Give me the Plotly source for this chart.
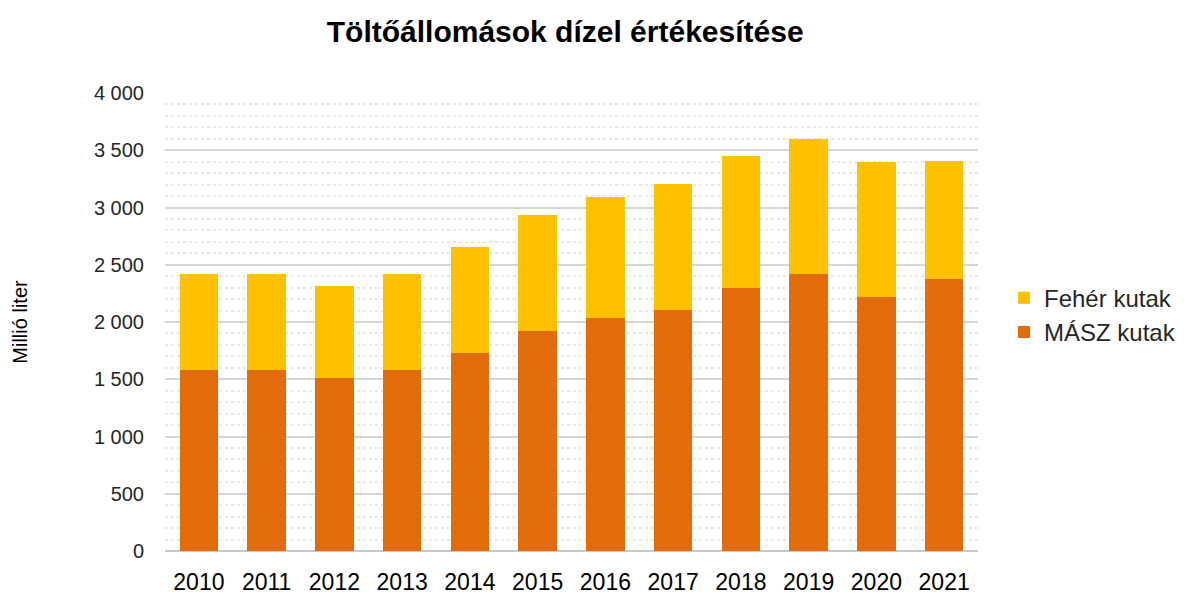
import plotly.graph_objects as go

years = ["2010", "2011", "2012", "2013", "2014", "2015", "2016", "2017", "2018", "2019", "2020", "2021"]
masz = [1580, 1580, 1515, 1580, 1728, 1918, 2037, 2105, 2297, 2419, 2221, 2376]
feher = [838, 838, 803, 838, 925, 1016, 1053, 1099, 1153, 1177, 1174, 1030]

FONT = "Liberation Sans, Arial, sans-serif"

fig = go.Figure()
fig.add_trace(go.Bar(x=years, y=masz, name="MÁSZ kutak",
                     marker=dict(color="#E36C0A", line=dict(width=0))))
fig.add_trace(go.Bar(x=years, y=feher, name="Fehér kutak",
                     marker=dict(color="#FFC000", line=dict(width=0))))

fig.update_layout(
    width=1188, height=599,
    barmode="stack", bargap=0.43,
    plot_bgcolor="white", paper_bgcolor="white",
    margin=dict(l=151, r=218, t=85, b=56),
    separators=", ",
    title=dict(text="<b>Töltőállomások dízel értékesítése</b>", x=0.469, xanchor="center",
               y=0.96, yanchor="middle",
               font=dict(family=FONT, size=30, color="#000000")),
    font=dict(family=FONT, size=20, color="#262626"),
    legend=dict(traceorder="reversed", x=1.032, y=0.515, xanchor="left", yanchor="middle",
                font=dict(family=FONT, size=24, color="#262626"), itemwidth=30),
    showlegend=True,
)
fig.update_xaxes(showline=False, ticks="", tickfont=dict(size=23, family=FONT, color="#000000"),
                 showgrid=False, ticklabelstandoff=15)
fig.update_yaxes(range=[0, 4000], dtick=500, tickformat=",d", separatethousands=True,
                 showgrid=True, gridcolor="#D6D6D6", gridwidth=1.5,
                 minor=dict(dtick=100, showgrid=True, gridcolor="#E8E8E8", griddash="dot", gridwidth=1.5),
                 zeroline=True, zerolinecolor="#C8C8C8", zerolinewidth=1.5,
                 ticks="", ticklabelstandoff=20, tickfont=dict(size=20, family=FONT),
                 title=dict(text="Millió liter", font=dict(size=20, family=FONT, color="#000000"), standoff=60))

fig.write_html("out.html")
